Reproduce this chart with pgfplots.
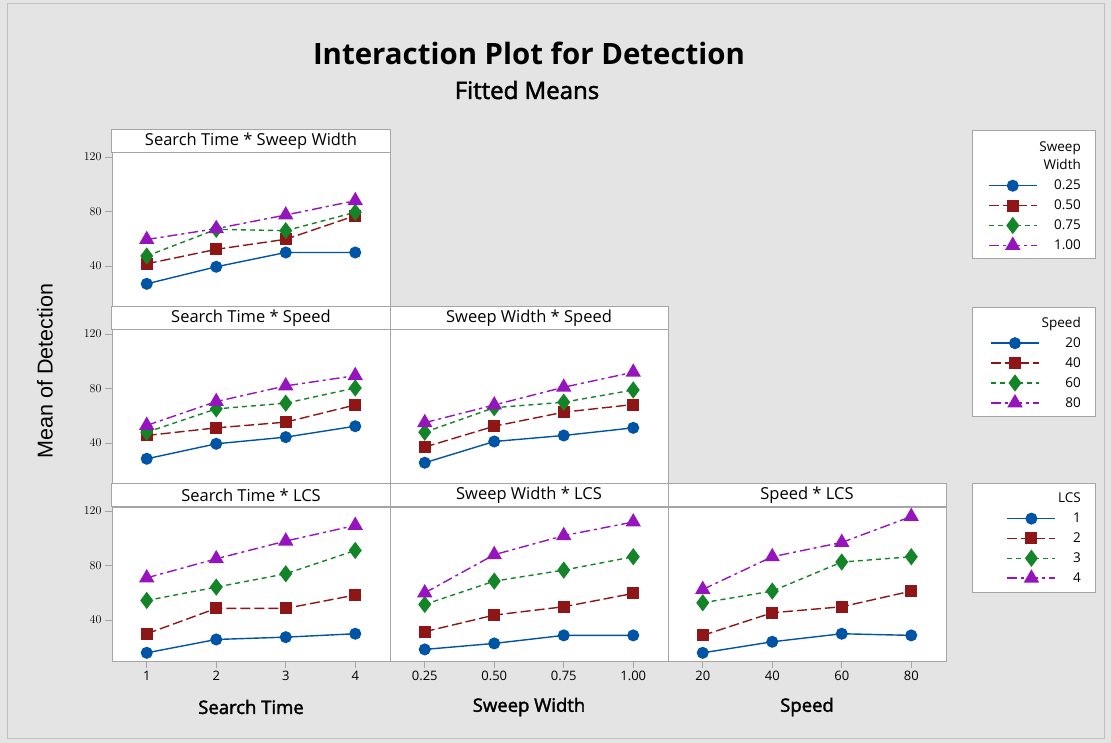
\documentclass[border=0pt]{standalone}
\usepackage{fontspec}
\setmainfont{Open Sans}
\newfontfamily\arialf{Liberation Sans}
\newfontfamily\semib[FakeBold=2]{Open Sans}
\usepackage{pgfplots}
\pgfplotsset{compat=1.18}
\definecolor{bgc}{RGB}{228,228,228}
\definecolor{frc}{RGB}{165,165,165}
\definecolor{cb}{RGB}{0,84,166}
\definecolor{cr}{RGB}{142,22,22}
\definecolor{cg}{RGB}{20,132,40}
\definecolor{cp}{RGB}{150,20,190}
\pgfplotsset{
  sA/.style={color=cb, solid, line width=1.4pt, mark=*, mark size=5.3pt, mark options={solid}},
  sB/.style={color=cr, dash pattern=on 10pt off 4pt, line width=1.4pt, mark=square*, mark size=5.3pt, mark options={solid}},
  sC/.style={color=cg, dash pattern=on 5pt off 4pt, line width=1.4pt, mark=diamond*, mark size=7.5pt, mark options={solid}},
  sD/.style={color=cp, dash pattern=on 10pt off 4pt on 3pt off 4pt, line width=1.4pt, mark=triangle*, mark size=7.5pt, mark options={solid}},
  panel/.style={
    scale only axis, width=278pt, height=154pt,
    anchor=north west,
    xmin=0.5, xmax=4.5, ymin=10, ymax=123,
    axis background/.style={fill=white},
    axis line style={frc, line width=1pt},
    tick style={frc, line width=1pt},
    major tick length=7pt,
    tick align=outside,
    tick pos=left,
    xtick=\empty, ytick=\empty,
    xticklabel style={font=\fontsize{13}{15}\selectfont, text=black},
    yticklabel style={font=\arialf\fontsize{13}{15}\selectfont, text=black},
    every axis title shift=0pt,
    title style={at={(0.5,1)}, anchor=south, draw=frc, line width=1pt, fill=white,
      minimum width=278pt, minimum height=23pt, inner sep=0pt, yshift=0pt,
      font=\fontsize{16.5}{18}\selectfont},
    xlabel style={font=\semib\fontsize{18.5}{20}\selectfont, at={(axis description cs:0.5,0)}, anchor=center, yshift=-46pt},
    legend image code/.code={\draw[mark repeat=2,mark phase=2] plot coordinates {(0pt,0pt) (24pt,0pt) (48pt,0pt)};},
    legend style={draw=none, fill=none, anchor=north east,
      font=\fontsize{13.5}{18}\selectfont, row sep=4.6pt,
      nodes={align=right, inner sep=2pt}},
    legend cell align=right,
  },
  ycol/.style={ytick={40,80,120}},
}
\begin{document}
\begin{tikzpicture}
\useasboundingbox (0pt,0pt) rectangle (1111pt,-743pt);
\fill[bgc] (0pt,0pt) rectangle (1111pt,-743pt);
\draw[frc!70, line width=1pt] (7pt,-4pt) rectangle (1104pt,-738pt);
% legend boxes
\filldraw[fill=white, draw=frc, line width=1pt] (972pt,-131pt) rectangle (1095pt,-259pt);
\filldraw[fill=white, draw=frc, line width=1pt] (972pt,-308pt) rectangle (1095pt,-416pt);
\filldraw[fill=white, draw=frc, line width=1pt] (972pt,-483pt) rectangle (1095pt,-592pt);
% titles
\node[anchor=base, font=\bfseries\fontsize{29.4}{34}\selectfont] at (529pt,-65pt) {Interaction Plot for Detection};
\node[anchor=base, font=\semib\fontsize{24}{28}\selectfont] at (527pt,-99pt) {Fitted Means};
\node[rotate=90, font=\arialf\fontsize{21.5}{24}\selectfont] at (45pt,-371pt) {Mean of Detection};

% Row 1: Search Time * Sweep Width
\begin{axis}[panel, ycol, at={(112pt,-153pt)}, title={Search Time * Sweep Width},
  legend style={at={(axis description cs:3.5036,1.0975)}}]
\addlegendimage{empty legend}\addlegendentry{Sweep\\Width}
\addplot[sA] coordinates {(1,27) (2,39.5) (3,50) (4,50)};\addlegendentry{0.25}
\addplot[sB] coordinates {(1,41.7) (2,52.3) (3,59.7) (4,77)};\addlegendentry{0.50}
\addplot[sC] coordinates {(1,47.4) (2,67) (3,66) (4,79.5)};\addlegendentry{0.75}
\addplot[sD] coordinates {(1,59.5) (2,67.5) (3,77.5) (4,88)};\addlegendentry{1.00}
\end{axis}

% Row 2: Search Time * Speed
\begin{axis}[panel, ycol, at={(112pt,-330pt)}, title={Search Time * Speed},
  legend style={at={(axis description cs:3.5036,1.1104)}}]
\addlegendimage{empty legend}\addlegendentry{Speed}
\addplot[sA] coordinates {(1,28.5) (2,39.5) (3,44.4) (4,52.4)};\addlegendentry{20}
\addplot[sB] coordinates {(1,45.6) (2,51.2) (3,55.4) (4,68)};\addlegendentry{40}
\addplot[sC] coordinates {(1,48) (2,65.1) (3,69.3) (4,80.5)};\addlegendentry{60}
\addplot[sD] coordinates {(1,53) (2,70.5) (3,82) (4,89.5)};\addlegendentry{80}
\end{axis}

% Row 2: Sweep Width * Speed
\begin{axis}[panel, at={(390pt,-330pt)}, title={Sweep Width * Speed}]
\addplot[sA] coordinates {(1,25.6) (2,41.2) (3,45.6) (4,51.2)};
\addplot[sB] coordinates {(1,37.1) (2,52.4) (3,62.7) (4,68.3)};
\addplot[sC] coordinates {(1,48) (2,66) (3,70) (4,79)};
\addplot[sD] coordinates {(1,55) (2,68) (3,81) (4,92)};
\end{axis}

% Row 3: Search Time * LCS
\begin{axis}[panel, ycol, at={(112pt,-507pt)}, title={Search Time * LCS},
  xtick={1,2,3,4}, xticklabels={1,2,3,4}, xlabel={Search Time},
  legend style={at={(axis description cs:3.5036,1.1170)}}]
\addlegendimage{empty legend}\addlegendentry{LCS}
\addplot[sA] coordinates {(1,16) (2,25.8) (3,27.5) (4,30)};\addlegendentry{1}
\addplot[sB] coordinates {(1,30) (2,48.6) (3,48.6) (4,58.4)};\addlegendentry{2}
\addplot[sC] coordinates {(1,54.4) (2,64.2) (3,74) (4,91.1)};\addlegendentry{3}
\addplot[sD] coordinates {(1,71) (2,85) (3,98) (4,109.5)};\addlegendentry{4}
\end{axis}

% Row 3: Sweep Width * LCS
\begin{axis}[panel, at={(390pt,-507pt)}, title={Sweep Width * LCS},
  xtick={1,2,3,4}, xticklabels={0.25,0.50,0.75,1.00}, xlabel={Sweep Width}]
\addplot[sA] coordinates {(1,18.5) (2,22.9) (3,28.8) (4,28.8)};
\addplot[sB] coordinates {(1,31.5) (2,43.7) (3,49.8) (4,59.6)};
\addplot[sC] coordinates {(1,51.5) (2,68.6) (3,76.7) (4,86.5)};
\addplot[sD] coordinates {(1,60) (2,88) (3,102) (4,112)};
\end{axis}

% Row 3: Speed * LCS
\begin{axis}[panel, at={(668pt,-507pt)}, title={Speed * LCS},
  xtick={1,2,3,4}, xticklabels={20,40,60,80}, xlabel={Speed}]
\addplot[sA] coordinates {(1,16) (2,24.1) (3,30) (4,28.8)};
\addplot[sB] coordinates {(1,28.8) (2,45.4) (3,49.8) (4,61.3)};
\addplot[sC] coordinates {(1,52.7) (2,61.3) (3,82.6) (4,86.5)};
\addplot[sD] coordinates {(1,62.5) (2,86.5) (3,97) (4,116)};
\end{axis}
\end{tikzpicture}
\end{document}
